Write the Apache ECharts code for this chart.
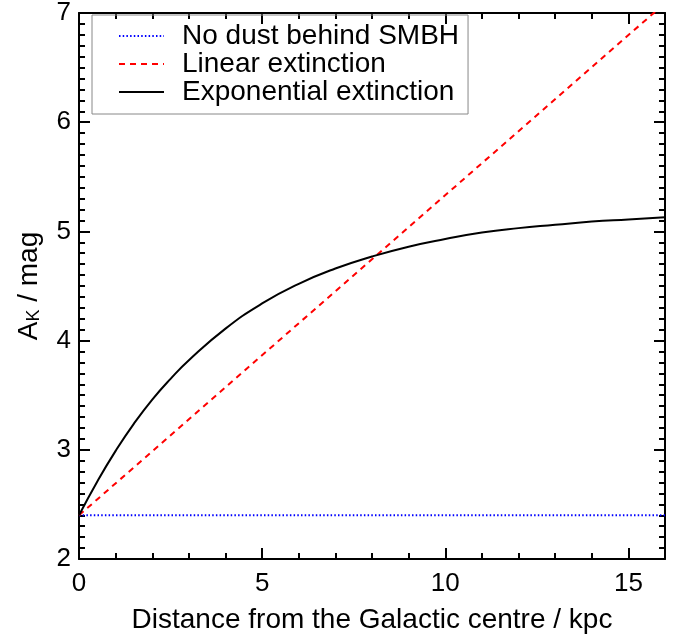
<!DOCTYPE html>
<html>
<head>
<meta charset="utf-8">
<script src="https://cdn.jsdelivr.net/npm/echarts@6/dist/echarts.min.js"></script>
<style>
  html, body { margin: 0; padding: 0; background: #fff; }
  #chart { width: 694px; height: 639px; }
</style>
</head>
<body>
<div id="chart"></div>
<script>
// distance from the Galactic centre (kpc)
const distances = [0, 0.5, 1, 1.5, 2, 2.5, 3, 4, 5, 6, 7, 8, 9, 10, 11, 12, 13, 14, 15, 16];
// exponential extinction curve
const expExtinction = [2.40, 2.71, 2.99, 3.24, 3.46, 3.65, 3.82, 4.11, 4.34, 4.52, 4.66, 4.77, 4.86, 4.93, 4.99, 5.03, 5.06, 5.09, 5.11, 5.13];
// linear extinction: end points
const linearX = [0, 16];
const linearY = [2.40, 7.09];
// no dust behind SMBH: constant level
const noDustX = [0, 16];
const noDustY = [2.40, 2.40];

const seriesNames = ['No dust behind SMBH', 'Linear extinction', 'Exponential extinction'];

const font = '"Liberation Sans", Arial, Helvetica, sans-serif';

const pairs = (xs, ys) => xs.map((x, i) => [x, ys[i]]);

const chart = echarts.init(document.getElementById('chart'));

const xBase = {
  type: 'value', min: 0, max: 16, interval: 5,
  axisLine: { onZero: false, lineStyle: { color: '#000', width: 2 } },
  axisTick: { inside: true, length: 11, lineStyle: { color: '#000', width: 2 } },
  minorTick: { show: true, splitNumber: 5, length: 6, lineStyle: { color: '#000', width: 2 } },
  splitLine: { show: false }
};
const yBase = {
  type: 'value', min: 2, max: 7, interval: 1,
  axisLine: { onZero: false, lineStyle: { color: '#000', width: 2 } },
  axisTick: { inside: true, length: 11, lineStyle: { color: '#000', width: 2 } },
  minorTick: { show: true, splitNumber: 10, length: 6, lineStyle: { color: '#000', width: 2 } },
  splitLine: { show: false }
};

const options = {
  backgroundColor: '#fff',
  animation: false,
  grid: { left: 79, top: 5, right: 29, bottom: 77, containLabel: false },
  legend: {
    orient: 'vertical',
    left: 92, top: 15,
    data: seriesNames,
    itemWidth: 45, itemHeight: 14, itemGap: 0,
    padding: [7, 9, 8, 26],
    borderColor: '#888', borderWidth: 1,
    itemStyle: { opacity: 0 },
    textStyle: { fontFamily: font, fontSize: 28, color: '#000', lineHeight: 28, padding: [0, 0, 0, 13] }
  },
  xAxis: [
    Object.assign({}, xBase, {
      position: 'bottom',
      name: 'Distance from the Galactic centre / kpc',
      nameLocation: 'middle', nameGap: 47,
      nameTextStyle: { fontFamily: font, fontSize: 28, color: '#000' },
      axisLabel: { color: '#000', fontFamily: font, fontSize: 26, margin: 12, showMaxLabel: false }
    }),
    Object.assign({}, xBase, { position: 'top', axisLabel: { show: false } })
  ],
  yAxis: [
    Object.assign({}, yBase, {
      position: 'left',
      name: '{a|A}{s|K}{a| / mag}',
      nameLocation: 'middle', nameGap: 36,
      nameTextStyle: {
        fontFamily: font, color: '#000',
        rich: {
          a: { fontFamily: font, fontSize: 28, color: '#000' },
          s: { fontFamily: font, fontSize: 18, color: '#000', verticalAlign: 'bottom', padding: [10, 0, 0, 0] }
        }
      },
      axisLabel: { color: '#000', fontFamily: font, fontSize: 26, margin: 8 }
    }),
    Object.assign({}, yBase, { position: 'right', axisLabel: { show: false } })
  ],
  series: [
    {
      name: seriesNames[0], type: 'line', symbol: 'none',
      data: pairs(noDustX, noDustY),
      lineStyle: { color: '#0000ff', width: 2, type: [1.5, 2.2] },
      itemStyle: { color: '#0000ff' }
    },
    {
      name: seriesNames[1], type: 'line', symbol: 'none',
      data: pairs(linearX, linearY),
      lineStyle: { color: '#ff0000', width: 2, type: [6, 5] },
      itemStyle: { color: '#ff0000' }
    },
    {
      name: seriesNames[2], type: 'line', symbol: 'none', smooth: true,
      data: pairs(distances, expExtinction),
      lineStyle: { color: '#000', width: 2 },
      itemStyle: { color: '#000' }
    }
  ]
};

chart.setOption(options);
</script>
</body>
</html>
